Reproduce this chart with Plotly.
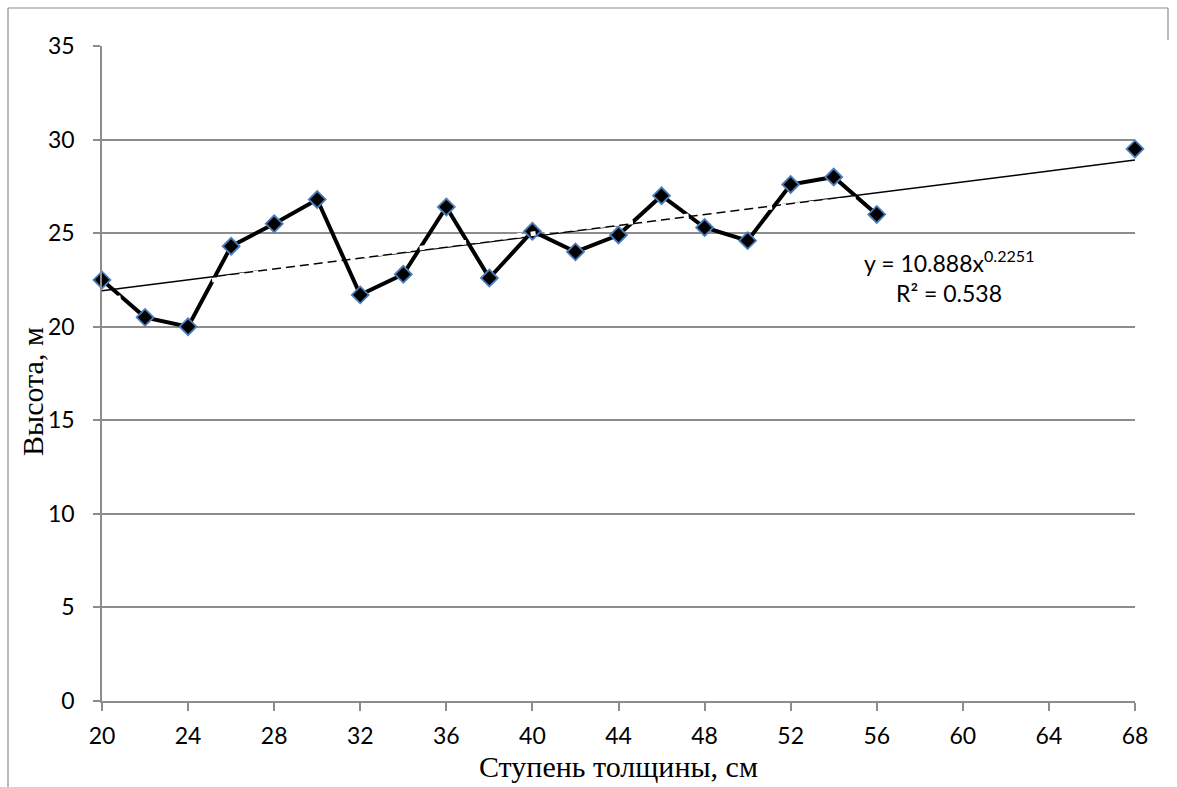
import numpy as np
import plotly.graph_objects as go

# Diameter classes (cm) and mean heights (m)
diameter_class = [20, 22, 24, 26, 28, 30, 32, 34, 36, 38, 40, 42, 44, 46, 48, 50, 52, 54, 56, 68]
height_m = [22.5, 20.5, 20.0, 24.3, 25.5, 26.8, 21.7, 22.8, 26.4, 22.6, 25.1, 24.0, 24.9, 27.0,
            25.3, 24.6, 27.6, 28.0, 26.0, 29.5]
class_step = 2

x_ticks = list(range(20, 72, 4))
y_ticks = list(range(0, 40, 5))

# Power trend y = a * x^b as reported on the chart
power_a = 10.888
power_b = 0.2251
r_squared = 0.538
power_x_range = (20, 56)

# Canvas geometry (px)
W, H = 1177, 787
M_L, M_R, M_T, M_B = 102, 42, 46, 86
plot_w = W - M_L - M_R
plot_h = H - M_T - M_B


def px_to_paper_x(px):
    return (px - M_L) / plot_w


def px_to_paper_y(py):
    return (H - M_B - py) / plot_h


GRID = "#8C8C8C"
TICK_FONT = dict(family="Lato, Calibri, sans-serif", size=23, color="black")
TITLE_FONT = dict(family="Liberation Serif, Times New Roman, serif", size=30, color="black")

# Linear least-squares trend over all observations
slope, intercept = np.polyfit(diameter_class, height_m, 1)
lin_x = np.array([min(diameter_class), max(diameter_class)], dtype=float)
lin_y = intercept + slope * lin_x

pow_x = np.linspace(power_x_range[0], power_x_range[1], 200)
pow_y = power_a * pow_x ** power_b

# Connect only neighbouring classes; break the line across skipped classes
line_x, line_y = [], []
for i, (xv, yv) in enumerate(zip(diameter_class, height_m)):
    if i > 0 and xv - diameter_class[i - 1] > class_step:
        line_x.append(None)
        line_y.append(None)
    line_x.append(xv)
    line_y.append(yv)

fig = go.Figure()

fig.add_trace(go.Scatter(
    x=lin_x, y=lin_y, mode="lines",
    line=dict(color="black", width=1.5),
    hoverinfo="skip", showlegend=False, cliponaxis=False,
))

fig.add_trace(go.Scatter(
    x=line_x, y=line_y, mode="lines", connectgaps=False,
    line=dict(color="black", width=4),
    hoverinfo="skip", showlegend=False, cliponaxis=False,
))

fig.add_trace(go.Scatter(
    x=diameter_class, y=height_m, mode="markers",
    marker=dict(symbol="diamond", size=13, color="black",
                line=dict(color="#4A7EBB", width=1.8)),
    showlegend=False, cliponaxis=False,
))

fig.add_trace(go.Scatter(
    x=pow_x, y=pow_y, mode="lines",
    line=dict(color="white", width=4.5, dash="5px,9px"),
    hoverinfo="skip", showlegend=False, cliponaxis=False,
))

fig.add_annotation(
    x=59.36, y=23.48, xref="x", yref="y",
    text=f"y = {power_a}x<sup>{power_b}</sup>",
    showarrow=False, font=TICK_FONT, xanchor="center", yanchor="middle",
)
fig.add_annotation(
    x=59.36, y=21.82, xref="x", yref="y",
    text=f"R² = {r_squared}",
    showarrow=False, font=TICK_FONT, xanchor="center", yanchor="middle",
)

# Axis titles
fig.add_annotation(
    x=px_to_paper_x(618), y=px_to_paper_y(767), xref="paper", yref="paper",
    text="Ступень толщины, см", showarrow=False, font=TITLE_FONT,
    xanchor="center", yanchor="middle",
)
fig.add_annotation(
    x=px_to_paper_x(33), y=px_to_paper_y(392), xref="paper", yref="paper",
    text="Высота, м", textangle=-90, showarrow=False, font=TITLE_FONT,
    xanchor="center", yanchor="middle",
)

# Chart frame
frame = dict(type="line", xref="paper", yref="paper", line=dict(color="#8C8C8C", width=1.2))
fig.add_shape(**frame, x0=px_to_paper_x(8), x1=px_to_paper_x(8), y0=px_to_paper_y(8), y1=px_to_paper_y(800))
fig.add_shape(**frame, x0=px_to_paper_x(8), x1=px_to_paper_x(1168), y0=px_to_paper_y(8), y1=px_to_paper_y(8))
fig.add_shape(**frame, x0=px_to_paper_x(1168), x1=px_to_paper_x(1168), y0=px_to_paper_y(8), y1=px_to_paper_y(40))

fig.update_xaxes(
    range=[20, 68], tickvals=x_ticks, ticktext=[str(v) for v in x_ticks],
    showgrid=False, zeroline=False, showline=True, linecolor=GRID, linewidth=1.5,
    ticks="outside", ticklen=8, tickcolor=GRID, tickwidth=1.5,
    tickfont=TICK_FONT, ticklabelstandoff=6,
)
fig.update_yaxes(
    range=[0, 35], tickvals=y_ticks, ticktext=[str(v) for v in y_ticks],
    showgrid=True, gridcolor=GRID, gridwidth=1.5, zeroline=False,
    showline=True, linecolor=GRID, linewidth=1.5,
    ticks="outside", ticklen=7, tickcolor=GRID, tickwidth=1.5,
    tickfont=TICK_FONT, ticklabelstandoff=14,
)

fig.update_layout(
    width=W, height=H,
    margin=dict(l=M_L, r=M_R, t=M_T, b=M_B),
    paper_bgcolor="white", plot_bgcolor="white",
    showlegend=False,
)

fig.write_html("out.html")
